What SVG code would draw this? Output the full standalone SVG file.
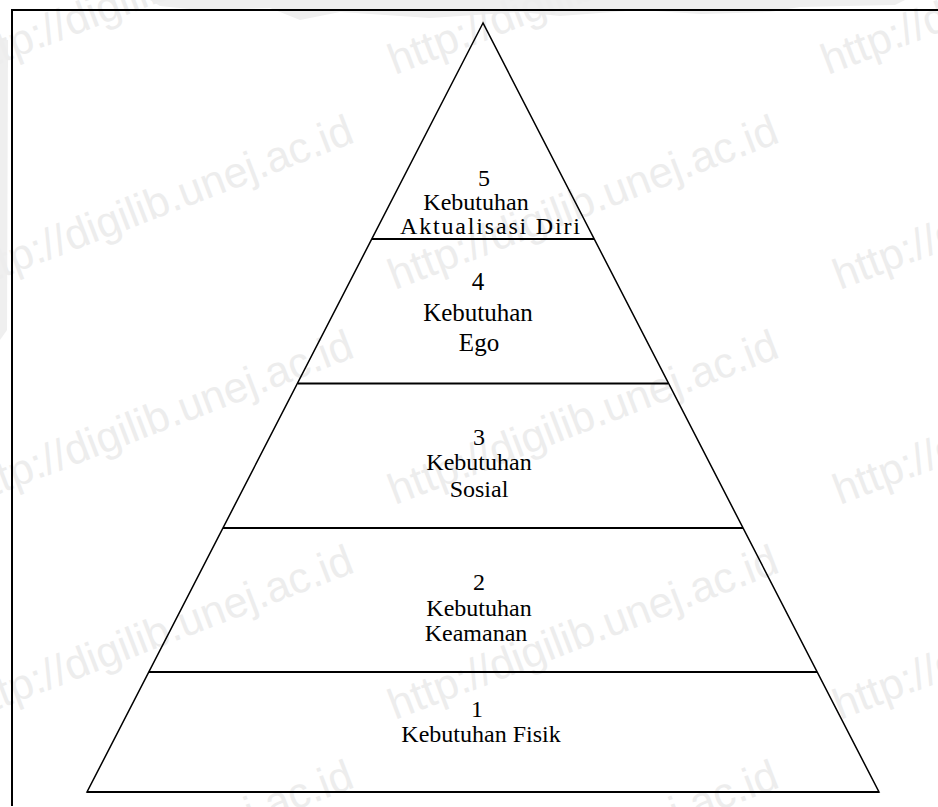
<svg xmlns="http://www.w3.org/2000/svg" width="938" height="807" viewBox="0 0 938 807">
  <style>
    .frame { fill: none; stroke: #000; stroke-width: 2; }
    .side { fill: none; stroke: #000; stroke-width: 1.5; stroke-linejoin: miter; }
    .tier { stroke: #000; stroke-width: 2; }
    .lbl { font-family: "Liberation Serif", "Times New Roman", serif; font-size: 24px; fill: #000; text-anchor: middle; }
    .big { font-size: 25px; }
    .wm { font-family: "Liberation Sans", Arial, sans-serif; font-size: 43px; fill: #ededed; }
    .logo { fill: #efefef; }
  </style>

  <rect width="938" height="807" fill="#fff"/>

  <!-- faint edges of the repository logo behind the page -->
  <g id="logo">
    <path class="logo" d="M150,0 H905 L895,5 L800,7 L770,12 L700,14 L640,10 L560,16 L520,12 L430,18 L340,12 L300,20 L270,8 L200,10 L160,6 Z"/>
    <path class="logo" d="M0,40 H8 L7,330 L0,340 Z"/>
  </g>

  <!-- repository watermark, tiled on a 3-column grid -->
  <defs>
    <text id="wmText" class="wm">http://digilib.unej.ac.id</text>
  </defs>
  <g id="watermark">
    <use href="#wmText" transform="translate(-30,75) rotate(-21)"/>
    <use href="#wmText" transform="translate(-30,290) rotate(-21)"/>
    <use href="#wmText" transform="translate(-30,505) rotate(-21)"/>
    <use href="#wmText" transform="translate(-30,720) rotate(-21)"/>
    <use href="#wmText" transform="translate(-30,935) rotate(-21)"/>
    <use href="#wmText" transform="translate(395,75) rotate(-21)"/>
    <use href="#wmText" transform="translate(395,290) rotate(-21)"/>
    <use href="#wmText" transform="translate(395,505) rotate(-21)"/>
    <use href="#wmText" transform="translate(395,720) rotate(-21)"/>
    <use href="#wmText" transform="translate(395,935) rotate(-21)"/>
    <use href="#wmText" transform="translate(828,75) rotate(-21)"/>
    <use href="#wmText" transform="translate(840,290) rotate(-21)"/>
    <use href="#wmText" transform="translate(840,505) rotate(-21)"/>
    <use href="#wmText" transform="translate(840,720) rotate(-21)"/>
  </g>

  <!-- page frame (top and left edges) -->
  <path class="frame" d="M12,806 V10 H938"/>

  <!-- pyramid outline and tier dividers -->
  <g id="connectors">
    <path class="side" d="M483,23 L87,792 H879 Z"/>
    <line class="tier" x1="372" y1="239" x2="594" y2="239"/>
    <line class="tier" x1="298" y1="383.5" x2="668" y2="383.5"/>
    <line class="tier" x1="223" y1="528" x2="743" y2="528"/>
    <line class="tier" x1="149" y1="672" x2="817" y2="672"/>
    <line class="tier" x1="87" y1="792" x2="879" y2="792"/>
  </g>

  <g id="tier5">
    <text class="lbl" x="484" y="186">5</text>
    <text class="lbl" x="476" y="210">Kebutuhan</text>
    <text class="lbl" x="490" y="234" textLength="180" lengthAdjust="spacing">Aktualisasi Diri</text>
  </g>
  <g id="tier4">
    <text class="lbl big" x="478" y="290">4</text>
    <text class="lbl big" x="478" y="321">Kebutuhan</text>
    <text class="lbl big" x="479" y="351">Ego</text>
  </g>
  <g id="tier3">
    <text class="lbl" x="479" y="445">3</text>
    <text class="lbl" x="479" y="470">Kebutuhan</text>
    <text class="lbl" x="479" y="497">Sosial</text>
  </g>
  <g id="tier2">
    <text class="lbl" x="479" y="590">2</text>
    <text class="lbl" x="479" y="616">Kebutuhan</text>
    <text class="lbl" x="476" y="641">Keamanan</text>
  </g>
  <g id="tier1">
    <text class="lbl" x="477" y="717">1</text>
    <text class="lbl" x="481" y="742">Kebutuhan Fisik</text>
  </g>
</svg>
